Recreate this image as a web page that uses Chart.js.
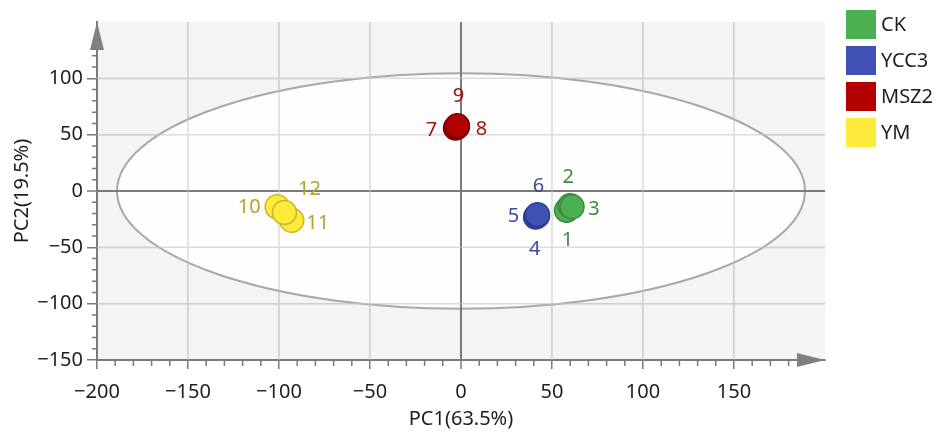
<!DOCTYPE html>
<html>
<head>
<meta charset="utf-8">
<script src="https://cdn.jsdelivr.net/npm/chart.js@4.4.1/dist/chart.umd.min.js"></script>
<style>
  html, body { margin: 0; padding: 0; background: #fff; }
  #wrap { width: 941px; height: 432px; }
</style>
</head>
<body>
<div id="wrap"><canvas id="pcaChart" width="941" height="432"></canvas></div>
<script>
// PCA score plot data
const groups = ['CK', 'YCC3', 'MSZ2', 'YM'];
const sampleIds = [['1', '2', '3'], ['4', '5', '6'], ['7', '8', '9'], ['10', '11', '12']];
const pc1Values = [[58, 60, 61], [41, 42, 42], [-3, -2, -2], [-101, -93, -97]];
const pc2Values = [[-17, -13, -14], [-23, -22, -21], [56, 57, 58], [-14, -26, -19]];
const ellipseRadii = [189, 104.5];
const xTicks = [-200, -150, -100, -50, 0, 50, 100, 150];
const yTicks = [-150, -100, -50, 0, 50, 100];

// styles
const fillColors = ['#4caf50', '#3f51b5', '#b30000', '#ffeb3b'];
const edgeColors = ['#3a8a3e', '#2e3c90', '#7a0000', '#c9b62c'];
const textColors = ['#3d8b3d', '#3c4a9c', '#a31515', '#b3a32a'];
// label offsets in px relative to each point
const labelOffsets = [
    [[1, 30], [-2, -28], [22, 3]],
    [[-1, 32], [-24, 1], [1, -28]],
    [[-24, 2], [24, 3], [1, -29]],
    [[-28, 1], [26, 3], [25, -23]]
];

const font = '"Noto Sans", "Open Sans", sans-serif';
const axisGrey = '#7a7a7a';

const datasets = groups.map((g, i) => ({
    label: g,
    data: pc1Values[i].map((v, j) => ({ x: v, y: pc2Values[i][j] })),
    backgroundColor: fillColors[i],
    borderColor: edgeColors[i],
    borderWidth: 1.5,
    pointRadius: 12,
    pointHoverRadius: 12
}));

const minus = v => (v < 0 ? '\u2212' + Math.abs(v) : String(v));

const pcaDecor = {
    id: 'pcaDecor',
    beforeDraw(chart) {
        const { ctx, chartArea: a } = chart;
        ctx.save();
        ctx.fillStyle = '#f4f4f4';
        ctx.fillRect(a.left, a.top, a.right - a.left, a.bottom - a.top);
        ctx.restore();
    },
    beforeDatasetsDraw(chart) {
        const { ctx, chartArea: a, scales: { x, y } } = chart;
        ctx.save();
        // confidence ellipse
        const cx = x.getPixelForValue(0), cy = y.getPixelForValue(0);
        const rx = x.getPixelForValue(ellipseRadii[0]) - cx;
        const ry = cy - y.getPixelForValue(ellipseRadii[1]);
        ctx.beginPath();
        ctx.ellipse(cx, cy, rx, ry, 0, 0, Math.PI * 2);
        ctx.fillStyle = 'rgba(255,255,255,0.85)';
        ctx.fill();
        ctx.strokeStyle = '#a8a8a8';
        ctx.lineWidth = 2;
        ctx.stroke();
        // zero lines again on top of ellipse fill
        ctx.strokeStyle = axisGrey;
        ctx.lineWidth = 2;
        ctx.beginPath();
        ctx.moveTo(a.left, cy); ctx.lineTo(a.right, cy);
        ctx.moveTo(cx, a.top); ctx.lineTo(cx, a.bottom);
        ctx.stroke();
        // inner grid lines over ellipse fill
        ctx.strokeStyle = 'rgba(200,200,200,0.6)';
        ctx.lineWidth = 1.5;
        ctx.beginPath();
        xTicks.forEach(v => {
            if (v === 0 || v === x.min) return;
            const px = x.getPixelForValue(v);
            ctx.moveTo(px, a.top); ctx.lineTo(px, a.bottom);
        });
        yTicks.forEach(v => {
            if (v === 0 || v === y.min) return;
            const py = y.getPixelForValue(v);
            ctx.moveTo(a.left, py); ctx.lineTo(a.right, py);
        });
        ctx.stroke();
        // minor ticks
        ctx.strokeStyle = axisGrey;
        ctx.lineWidth = 1.5;
        ctx.beginPath();
        for (let v = x.min; v < x.max - 15; v += 10) {
            if (v % 50 === 0) continue;
            const px = x.getPixelForValue(v);
            ctx.moveTo(px, a.bottom); ctx.lineTo(px, a.bottom + 6);
        }
        for (let v = y.min; v < y.max - 15; v += 10) {
            if (v % 50 === 0) continue;
            const py = y.getPixelForValue(v);
            ctx.moveTo(a.left, py); ctx.lineTo(a.left - 5, py);
        }
        ctx.stroke();
        // axis arrows
        ctx.fillStyle = '#808080';
        ctx.beginPath();
        ctx.moveTo(a.right, a.bottom);
        ctx.lineTo(a.right - 28, a.bottom - 7);
        ctx.lineTo(a.right - 28, a.bottom + 7);
        ctx.closePath();
        ctx.moveTo(a.left, a.top);
        ctx.lineTo(a.left - 7, a.top + 28);
        ctx.lineTo(a.left + 7, a.top + 28);
        ctx.closePath();
        ctx.fill();
        ctx.restore();
    },
    afterDatasetsDraw(chart) {
        const { ctx } = chart;
        ctx.save();
        ctx.font = '20px ' + font;
        ctx.textAlign = 'center';
        ctx.textBaseline = 'middle';
        chart.data.datasets.forEach((ds, i) => {
            const meta = chart.getDatasetMeta(i);
            meta.data.forEach((pt, j) => {
                ctx.fillStyle = textColors[i];
                const off = labelOffsets[i][j];
                ctx.fillText(sampleIds[i][j], pt.x + off[0], pt.y + off[1]);
            });
        });
        // legend
        ctx.textAlign = 'left';
        ctx.font = '20px ' + font;
        chart.data.datasets.forEach((ds, i) => {
            const top = 10 + i * 36;
            ctx.fillStyle = ds.backgroundColor;
            ctx.fillRect(846, top, 30, 29);
            ctx.fillStyle = '#1e1e1e';
            ctx.fillText(ds.label, 881, top + 15);
        });
        ctx.restore();
    }
};

const ctx = document.getElementById('pcaChart').getContext('2d');
const pcaChart = new Chart(ctx, {
    type: 'scatter',
    data: { datasets: datasets },
    options: {
        responsive: false,
        animation: false,
        layout: { padding: { left: 0, right: 116, top: 22, bottom: 0 } },
        plugins: { legend: { display: false }, tooltip: { enabled: false } },
        scales: {
            x: {
                type: 'linear',
                min: -200,
                max: 200,
                afterFit: s => { s.height = 72; },
                afterBuildTicks: s => { s.ticks = xTicks.concat([200]).map(v => ({ value: v })); },
                ticks: {
                    callback: v => (v === 200 ? '' : minus(v)),
                    font: { family: font, size: 20 },
                    color: '#1e1e1e',
                    padding: 11,
                    maxRotation: 0
                },
                grid: {
                    color: c => (c.tick && c.tick.value === 0 ? axisGrey : (c.tick && c.tick.value === 200 ? 'transparent' : '#dadada')),
                    lineWidth: c => (c.tick && c.tick.value === 0 ? 2 : 1.5),
                    tickColor: c => (c.tick && c.tick.value === 200 ? 'transparent' : axisGrey),
                    tickLength: 9,
                    tickWidth: 1.5
                },
                border: { color: axisGrey, width: 2 },
                title: {
                    display: true,
                    text: 'PC1(63.5%)',
                    font: { family: font, size: 20 },
                    color: '#1e1e1e',
                    padding: { top: 0, bottom: 1 }
                }
            },
            y: {
                type: 'linear',
                min: -150,
                max: 150,
                afterFit: s => { s.width = 97; },
                afterBuildTicks: s => { s.ticks = yTicks.concat([150]).map(v => ({ value: v })); },
                ticks: {
                    callback: v => (v === 150 ? '' : minus(v)),
                    font: { family: font, size: 20 },
                    color: '#1e1e1e',
                    padding: 4
                },
                grid: {
                    color: c => (c.tick && c.tick.value === 0 ? axisGrey : (c.tick && c.tick.value === 150 ? 'transparent' : '#dadada')),
                    lineWidth: c => (c.tick && c.tick.value === 0 ? 2 : 1.5),
                    tickColor: c => (c.tick && c.tick.value === 150 ? 'transparent' : axisGrey),
                    tickLength: 10,
                    tickWidth: 1.5
                },
                border: { color: axisGrey, width: 2 },
                title: {
                    display: true,
                    text: 'PC2(19.5%)',
                    font: { family: font, size: 20 },
                    color: '#1e1e1e',
                    padding: { top: 10, bottom: 0 }
                }
            }
        }
    },
    plugins: [pcaDecor]
});
</script>
</body>
</html>
